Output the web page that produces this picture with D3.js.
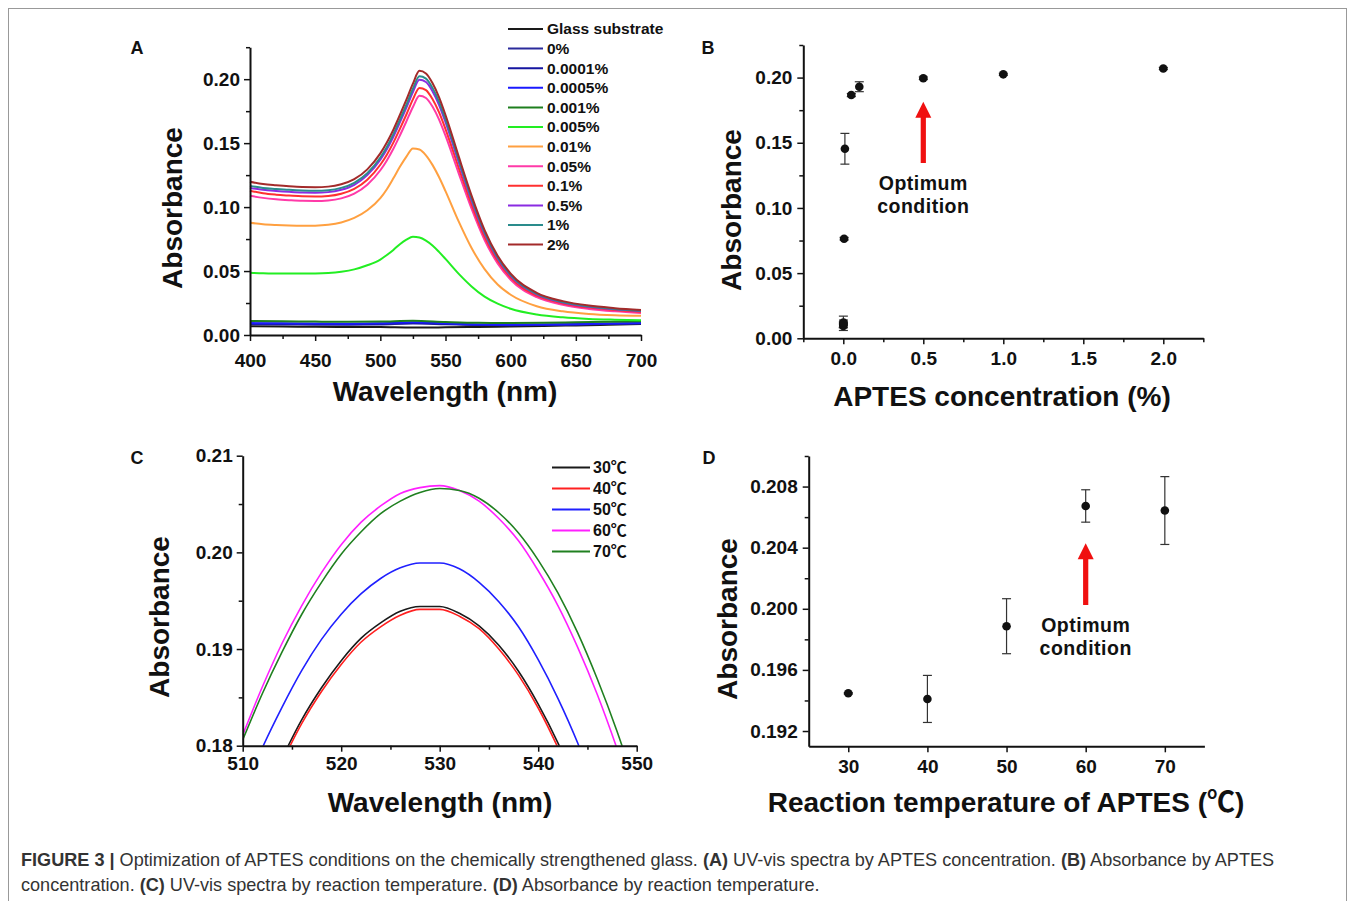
<!DOCTYPE html>
<html>
<head>
<meta charset="utf-8">
<script src="https://cdn.jsdelivr.net/npm/d3@7"></script>
<style>
  body { margin: 0; background: #fff; }
  svg text { font-family: "Liberation Sans", Arial, "Noto Sans CJK KR", sans-serif; fill: #111; }
  .axis path, .axis line { stroke: #111; }
  .axis path { stroke-width: 2; }
  .axis line { stroke-width: 1.5; }
  .axis text { font-size: 19px; font-weight: bold; }
  .axis-title { font-size: 28px; font-weight: bold; }
  .panel-tag { font-size: 18px; font-weight: bold; }
  .legend-label { font-size: 15.5px; font-weight: bold; }
  .legend-temp { font-size: 16px; font-weight: bold; }
  .note { font-size: 19.5px; font-weight: bold; letter-spacing: 0.5px; }
  .caption { font-size: 18.1px; fill: #333 !important; }
</style>
</head>
<body>
<div id="figure"></div>
<script>
// ---- panel A: UV-vis spectra by APTES concentration ----
const specLabels = ["Glass substrate", "0%", "0.0001%", "0.0005%", "0.001%", "0.005%",
  "0.01%", "0.05%", "0.1%", "0.5%", "1%", "2%"];
const specColors = ["#1a1a1a", "#2b2b9b", "#1515a0", "#1a1aff", "#1e7f1e", "#22ee22",
  "#ffa040", "#ff3aa8", "#ff3030", "#8a2be2", "#2a8c8c", "#a32a2a"];

const lowWavelengths = [400, 425, 450, 475, 500, 525, 550, 575, 600, 625, 650, 675, 700];
const specGlass = [0.0068, 0.0066, 0.0064, 0.0063, 0.0062, 0.0058, 0.0060, 0.0063, 0.0066, 0.0070, 0.0075, 0.0080, 0.0086];
const spec0 = [0.0085, 0.0083, 0.0081, 0.0080, 0.0082, 0.0090, 0.0084, 0.0078, 0.0077, 0.0079, 0.0082, 0.0086, 0.0090];
const spec00001 = [0.0090, 0.0088, 0.0086, 0.0085, 0.0087, 0.0095, 0.0088, 0.0081, 0.0079, 0.0081, 0.0084, 0.0088, 0.0092];
const spec00005 = [0.0093, 0.0091, 0.0089, 0.0088, 0.0091, 0.0100, 0.0091, 0.0083, 0.0080, 0.0082, 0.0085, 0.0089, 0.0094];
const spec0001 = [0.0110, 0.0108, 0.0105, 0.0103, 0.0105, 0.0112, 0.0102, 0.0095, 0.0094, 0.0096, 0.0100, 0.0104, 0.0108];

const wavelengths = [400, 410, 420, 430, 440, 450, 460, 470, 480, 490, 500, 505, 510, 515, 520, 525,
  530, 535, 540, 545, 550, 560, 570, 580, 590, 600, 620, 640, 660, 680, 700];
const spec0005 = [0.0487, 0.0483, 0.0481, 0.0480, 0.0480, 0.0481, 0.0485, 0.0495, 0.0513, 0.0545, 0.0590, 0.0625, 0.0665, 0.0710, 0.0745, 0.0768,
  0.0762, 0.0738, 0.0700, 0.0650, 0.0595, 0.0480, 0.0380, 0.0300, 0.0245, 0.0205, 0.0160, 0.0138, 0.0126, 0.0120, 0.0116];
const spec001 = [0.0877, 0.0866, 0.0860, 0.0856, 0.0854, 0.0855, 0.0862, 0.0880, 0.0915, 0.0975, 0.1070, 0.1140, 0.1225, 0.1315, 0.1395, 0.1458,
  0.1450, 0.1405, 0.1330, 0.1235, 0.1125, 0.0890, 0.0680, 0.0515, 0.0395, 0.0315, 0.0225, 0.0185, 0.0165, 0.0155, 0.0150];
const spec005 = [0.1089, 0.1072, 0.1061, 0.1054, 0.1049, 0.1048, 0.1052, 0.1068, 0.1105, 0.1175, 0.1288, 0.1365, 0.1456, 0.1560, 0.1670, 0.1783,
  0.1870, 0.1853, 0.1786, 0.1686, 0.1558, 0.1268, 0.0987, 0.0742, 0.0560, 0.0432, 0.0296, 0.0236, 0.0204, 0.0185, 0.0172];
const spec01 = [0.1128, 0.1108, 0.1097, 0.1090, 0.1084, 0.1083, 0.1087, 0.1104, 0.1142, 0.1214, 0.1331, 0.1410, 0.1504, 0.1612, 0.1724, 0.1842,
  0.1932, 0.1915, 0.1845, 0.1742, 0.1610, 0.1311, 0.1020, 0.0767, 0.0580, 0.0448, 0.0308, 0.0247, 0.0214, 0.0195, 0.0181];
const spec05 = [0.1150, 0.1135, 0.1126, 0.1119, 0.1114, 0.1113, 0.1117, 0.1135, 0.1174, 0.1250, 0.1370, 0.1452, 0.1550, 0.1662, 0.1778, 0.1900,
  0.1996, 0.1978, 0.1906, 0.1800, 0.1664, 0.1354, 0.1053, 0.0792, 0.0598, 0.0462, 0.0318, 0.0254, 0.0221, 0.0201, 0.0187];
const spec1 = [0.1166, 0.1150, 0.1142, 0.1135, 0.1130, 0.1128, 0.1132, 0.1150, 0.1190, 0.1265, 0.1388, 0.1470, 0.1570, 0.1683, 0.1800, 0.1925,
  0.2022, 0.2004, 0.1932, 0.1825, 0.1688, 0.1375, 0.1070, 0.0805, 0.0608, 0.0470, 0.0323, 0.0258, 0.0224, 0.0204, 0.0190];
const spec2 = [0.1198, 0.1180, 0.1170, 0.1162, 0.1157, 0.1156, 0.1160, 0.1178, 0.1218, 0.1295, 0.1420, 0.1505, 0.1605, 0.1720, 0.1840, 0.1965,
  0.2065, 0.2045, 0.1970, 0.1860, 0.1720, 0.1400, 0.1090, 0.0820, 0.0620, 0.0480, 0.0330, 0.0265, 0.0230, 0.0210, 0.0195];

// ---- panel B: absorbance by APTES concentration ----
const bConc = [0, 0.0001, 0.0005, 0.001, 0.005, 0.01, 0.05, 0.1, 0.5, 1, 2];
const bAbs = [0.0095, 0.0105, 0.0115, 0.0120, 0.0764, 0.1454, 0.1866, 0.1930, 0.1995, 0.2025, 0.2070];
const bErr = [0.0015, 0.0020, 0.0055, 0.0020, 0.0010, 0.0118, 0.0012, 0.0038, 0.0010, 0.0008, 0.0008];

// ---- panel C: UV-vis spectra by reaction temperature ----
const tempLabels = ["30\u2103", "40\u2103", "50\u2103", "60\u2103", "70\u2103"];
const tempColors = ["#1a1a1a", "#ff2020", "#2020ff", "#ff20ff", "#208020"];
const zoomWavelengths = [510, 512, 514, 516, 518, 520, 522, 524, 526, 528, 530, 532, 534, 536, 538, 540, 542, 544, 546, 548, 550];
const spec30 = [0.1692, 0.1743, 0.1787, 0.1827, 0.1860, 0.1888, 0.1911, 0.1927, 0.1939, 0.1944, 0.1944,
  0.1937, 0.1924, 0.1904, 0.1877, 0.1843, 0.1803, 0.1756, 0.1700, 0.1640, 0.1575];
const spec40 = [0.1688, 0.1739, 0.1783, 0.1823, 0.1856, 0.1884, 0.1907, 0.1923, 0.1935, 0.1941, 0.1941,
  0.1934, 0.1921, 0.1900, 0.1873, 0.1839, 0.1798, 0.1751, 0.1695, 0.1635, 0.1570];
const spec50 = [0.1750, 0.1798, 0.1840, 0.1878, 0.1910, 0.1936, 0.1957, 0.1973, 0.1984, 0.1989, 0.1989,
  0.1983, 0.1969, 0.1949, 0.1923, 0.1889, 0.1849, 0.1803, 0.1749, 0.1690, 0.1625];
const spec60 = [0.1811, 0.1861, 0.1906, 0.1945, 0.1979, 0.2008, 0.2031, 0.2048, 0.2061, 0.2067, 0.2069,
  0.2064, 0.2053, 0.2035, 0.2012, 0.1981, 0.1945, 0.1902, 0.1853, 0.1797, 0.1735];
const spec70 = [0.1806, 0.1854, 0.1897, 0.1936, 0.1969, 0.1998, 0.2021, 0.2040, 0.2053, 0.2062, 0.2066,
  0.2064, 0.2056, 0.2041, 0.2020, 0.1992, 0.1958, 0.1917, 0.1869, 0.1815, 0.1754];

// ---- panel D: absorbance by reaction temperature ----
const dTemp = [30, 40, 50, 60, 70];
const dAbs = [0.19447, 0.19410, 0.19886, 0.20673, 0.20643];
const dErr = [0.00005, 0.00154, 0.00180, 0.00106, 0.00222];

const W = 1357, H = 901;

const svg = d3.select("#figure").append("svg")
  .attr("width", W)
  .attr("height", H)
  .attr("viewBox", [0, 0, W, H]);

svg.append("rect")
  .attr("x", 8.5).attr("y", 8.5)
  .attr("width", 1338).attr("height", 1000)
  .attr("fill", "none")
  .attr("stroke", "#999")
  .attr("stroke-width", 1);

function drawAxes(g, x, y, cfg) {
  const x0 = x.range()[0];
  const y0 = y.range()[0];

  g.append("g")
    .attr("class", "axis")
    .attr("transform", `translate(0,${y0})`)
    .call(d3.axisBottom(x).tickValues(cfg.xTicks).tickFormat(cfg.xFormat)
      .tickSize(6).tickSizeOuter(0).tickPadding(cfg.xPad));
  if (cfg.xMinor) {
    g.append("g")
      .attr("class", "axis")
      .attr("transform", `translate(0,${y0})`)
      .call(d3.axisBottom(x).tickValues(cfg.xMinor).tickFormat("").tickSize(4).tickSizeOuter(0))
      .call(function (s) { s.select(".domain").remove(); });
  }

  g.append("g")
    .attr("class", "axis")
    .attr("transform", `translate(${x0},0)`)
    .call(d3.axisLeft(y).tickValues(cfg.yTicks).tickFormat(cfg.yFormat)
      .tickSize(6).tickSizeOuter(0).tickPadding(cfg.yPad));
  if (cfg.yMinor) {
    g.append("g")
      .attr("class", "axis")
      .attr("transform", `translate(${x0},0)`)
      .call(d3.axisLeft(y).tickValues(cfg.yMinor).tickFormat("").tickSize(4).tickSizeOuter(0))
      .call(function (s) { s.select(".domain").remove(); });
  }
}

function axisTitles(g, xTitle, xPos, yTitle, yPos) {
  g.append("text")
    .attr("class", "axis-title")
    .attr("x", xPos[0]).attr("y", xPos[1])
    .attr("text-anchor", "middle")
    .text(xTitle);
  g.append("text")
    .attr("class", "axis-title")
    .attr("transform", `translate(${yPos[0]},${yPos[1]}) rotate(-90)`)
    .attr("text-anchor", "middle")
    .attr("dy", "0.35em")
    .text(yTitle);
}

function panelTag(g, label, x, y) {
  g.append("text")
    .attr("class", "panel-tag")
    .attr("x", x).attr("y", y)
    .attr("text-anchor", "middle")
    .attr("dy", "0.35em")
    .text(label);
}

function drawArrow(g, cx, yTail, yTip) {
  const shaft = 2.6, head = 8, headLen = 16;
  const p = [
    [cx - shaft, yTail], [cx - shaft, yTip + headLen], [cx - head, yTip + headLen],
    [cx, yTip], [cx + head, yTip + headLen], [cx + shaft, yTip + headLen], [cx + shaft, yTail]
  ];
  g.append("path")
    .attr("d", "M" + p.join("L") + "Z")
    .attr("fill", "#f01010");
}

// two-line note kept in one text element
function optimumNote(g, cx, yFirst, yGap) {
  const t = g.append("text")
    .attr("class", "note")
    .attr("text-anchor", "middle");
  t.append("tspan").attr("x", cx).attr("y", yFirst).text("Optimum");
  t.append("tspan").attr("x", cx).attr("y", yFirst + yGap).text("condition");
}

function errorPoints(g, x, y, xs, ys, es, capW) {
  const rows = xs.map(function (v, i) { return { x: v, y: ys[i], e: es[i] }; });
  const eg = g.append("g").attr("stroke", "#333").attr("stroke-width", 1.2);
  eg.selectAll("line.bar").data(rows).join("line")
    .attr("class", "bar")
    .attr("x1", function (d) { return x(d.x); })
    .attr("x2", function (d) { return x(d.x); })
    .attr("y1", function (d) { return y(d.y - d.e); })
    .attr("y2", function (d) { return y(d.y + d.e); });
  [-1, 1].forEach(function (s) {
    eg.selectAll("line.cap" + (s + 1)).data(rows).join("line")
      .attr("class", "cap" + (s + 1))
      .attr("x1", function (d) { return x(d.x) - capW / 2; })
      .attr("x2", function (d) { return x(d.x) + capW / 2; })
      .attr("y1", function (d) { return y(d.y + s * d.e); })
      .attr("y2", function (d) { return y(d.y + s * d.e); });
  });
  g.selectAll("circle").data(rows).join("circle")
    .attr("cx", function (d) { return x(d.x); })
    .attr("cy", function (d) { return y(d.y); })
    .attr("r", 4.3)
    .attr("fill", "#111");
}

// ---------- A ----------
(function () {
  const g = svg.append("g");
  const x = d3.scaleLinear().domain([400, 700]).range([250, 641]);
  const y = d3.scaleLinear().domain([0, 0.225]).range([335, 47.2]);

  const lowSeries = [specGlass, spec0, spec00001, spec00005, spec0001];
  const highSeries = [spec0005, spec001, spec005, spec01, spec05, spec1, spec2];
  const series = lowSeries.map(function (vals, i) {
    return { color: specColors[i], pts: lowWavelengths.map(function (w, j) { return [w, vals[j]]; }) };
  }).concat(highSeries.map(function (vals, i) {
    return { color: specColors[i + 5], pts: wavelengths.map(function (w, j) { return [w, vals[j]]; }) };
  }));

  const line = d3.line()
    .x(function (d) { return x(d[0]); })
    .y(function (d) { return y(d[1]); })
    .curve(d3.curveMonotoneX);

  g.append("g").selectAll("path").data(series).join("path")
    .attr("d", function (d) { return line(d.pts); })
    .attr("fill", "none")
    .attr("stroke", function (d) { return d.color; })
    .attr("stroke-width", 2);

  drawAxes(g, x, y, {
    xTicks: d3.range(400, 701, 50), xMinor: d3.range(425, 700, 50), xFormat: d3.format("d"), xPad: 13,
    yTicks: d3.range(0, 0.201, 0.05), yMinor: [0.025, 0.075, 0.125, 0.175, 0.225], yFormat: d3.format(".2f"), yPad: 4
  });

  axisTitles(g, "Wavelength (nm)", [445, 401], "Absorbance", [172, 208]);
  panelTag(g, "A", 137, 48);

  const leg = g.append("g");
  specLabels.forEach(function (lab, i) {
    const ly = 29 + i * 19.6;
    leg.append("line")
      .attr("x1", 508).attr("x2", 543)
      .attr("y1", ly).attr("y2", ly)
      .attr("stroke", specColors[i]).attr("stroke-width", 2);
    leg.append("text")
      .attr("class", "legend-label")
      .attr("x", 547).attr("y", ly).attr("dy", "0.35em")
      .text(lab);
  });
})();

// ---------- B ----------
(function () {
  const g = svg.append("g");
  const x = d3.scaleLinear().domain([-0.25, 2.25]).range([803.3, 1203.3]);
  const y = d3.scaleLinear().domain([0, 0.225]).range([338.3, 45]);

  drawAxes(g, x, y, {
    xTicks: [0, 0.5, 1, 1.5, 2], xMinor: [-0.25, 0.25, 0.75, 1.25, 1.75, 2.25], xFormat: d3.format(".1f"), xPad: 7,
    yTicks: d3.range(0, 0.201, 0.05), yMinor: [0.025, 0.075, 0.125, 0.175, 0.225], yFormat: d3.format(".2f"), yPad: 5
  });

  errorPoints(g, x, y, bConc, bAbs, bErr, 9);

  drawArrow(g, x(0.5), y(0.1344), y(0.1814));
  optimumNote(g, x(0.5), y(0.1137), 23);

  axisTitles(g, "APTES concentration (%)", [1002, 406], "Absorbance", [731, 210]);
  panelTag(g, "B", 708, 48);
})();

// ---------- C ----------
(function () {
  const g = svg.append("g");
  const x = d3.scaleLinear().domain([510, 550]).range([242.7, 636.7]);
  const y = d3.scaleLinear().domain([0.18, 0.21]).range([745.7, 455.7]);

  g.append("clipPath").attr("id", "clipC")
    .append("rect")
    .attr("x", 242.7).attr("y", 455.7)
    .attr("width", 394).attr("height", 290);

  const series = [spec30, spec40, spec50, spec60, spec70].map(function (vals, i) {
    return { color: tempColors[i], pts: zoomWavelengths.map(function (w, j) { return [w, vals[j]]; }) };
  });

  const line = d3.line()
    .x(function (d) { return x(d[0]); })
    .y(function (d) { return y(d[1]); })
    .curve(d3.curveMonotoneX);

  g.append("g").attr("clip-path", "url(#clipC)")
    .selectAll("path").data(series).join("path")
    .attr("d", function (d) { return line(d.pts); })
    .attr("fill", "none")
    .attr("stroke", function (d) { return d.color; })
    .attr("stroke-width", 1.6);

  drawAxes(g, x, y, {
    xTicks: d3.range(510, 551, 10), xMinor: d3.range(515, 550, 10), xFormat: d3.format("d"), xPad: 5,
    yTicks: [0.18, 0.19, 0.20, 0.21], yMinor: [0.185, 0.195, 0.205], yFormat: d3.format(".2f"), yPad: 4
  });

  axisTitles(g, "Wavelength (nm)", [440, 812], "Absorbance", [159, 617]);
  panelTag(g, "C", 137, 458);

  const leg = g.append("g");
  tempLabels.forEach(function (lab, i) {
    const ly = 467.5 + i * 21;
    leg.append("line")
      .attr("x1", 552).attr("x2", 590)
      .attr("y1", ly).attr("y2", ly)
      .attr("stroke", tempColors[i]).attr("stroke-width", 2);
    leg.append("text")
      .attr("class", "legend-temp")
      .attr("x", 593).attr("y", ly).attr("dy", "0.35em")
      .text(lab);
  });
})();

// ---------- D ----------
(function () {
  const g = svg.append("g");
  const x = d3.scaleLinear().domain([25, 75]).range([808.7, 1204.4]);
  const y = d3.scaleLinear().domain([0.191, 0.210]).range([746.3, 456]);

  drawAxes(g, x, y, {
    xTicks: [30, 40, 50, 60, 70], xMinor: null, xFormat: d3.format("d"), xPad: 7,
    yTicks: [0.192, 0.196, 0.200, 0.204, 0.208], yMinor: [0.194, 0.198, 0.202, 0.206, 0.210], yFormat: d3.format(".3f"), yPad: 5
  });

  errorPoints(g, x, y, dTemp, dAbs, dErr, 9);

  drawArrow(g, x(60), y(0.20025), y(0.20429));
  optimumNote(g, x(60), y(0.1985), 23);

  axisTitles(g, "Reaction temperature of APTES (\u2103)", [1006, 812], "Absorbance", [727, 619]);
  panelTag(g, "D", 709, 458);
})();

// ---------- caption ----------
const captionLines = [
  [["FIGURE 3 |", true], [" Optimization of APTES conditions on the chemically strengthened glass. ", false],
   ["(A)", true], [" UV-vis spectra by APTES concentration. ", false], ["(B)", true], [" Absorbance by APTES", false]],
  [["concentration. ", false], ["(C)", true], [" UV-vis spectra by reaction temperature. ", false],
   ["(D)", true], [" Absorbance by reaction temperature.", false]]
];

captionLines.forEach(function (parts, i) {
  const t = svg.append("text")
    .attr("class", "caption")
    .attr("x", 21)
    .attr("y", 866 + i * 25)
    .attr("xml:space", "preserve");
  parts.forEach(function (p) {
    t.append("tspan")
      .attr("font-weight", p[1] ? "bold" : "normal")
      .text(p[0]);
  });
});
</script>
</body>
</html>
